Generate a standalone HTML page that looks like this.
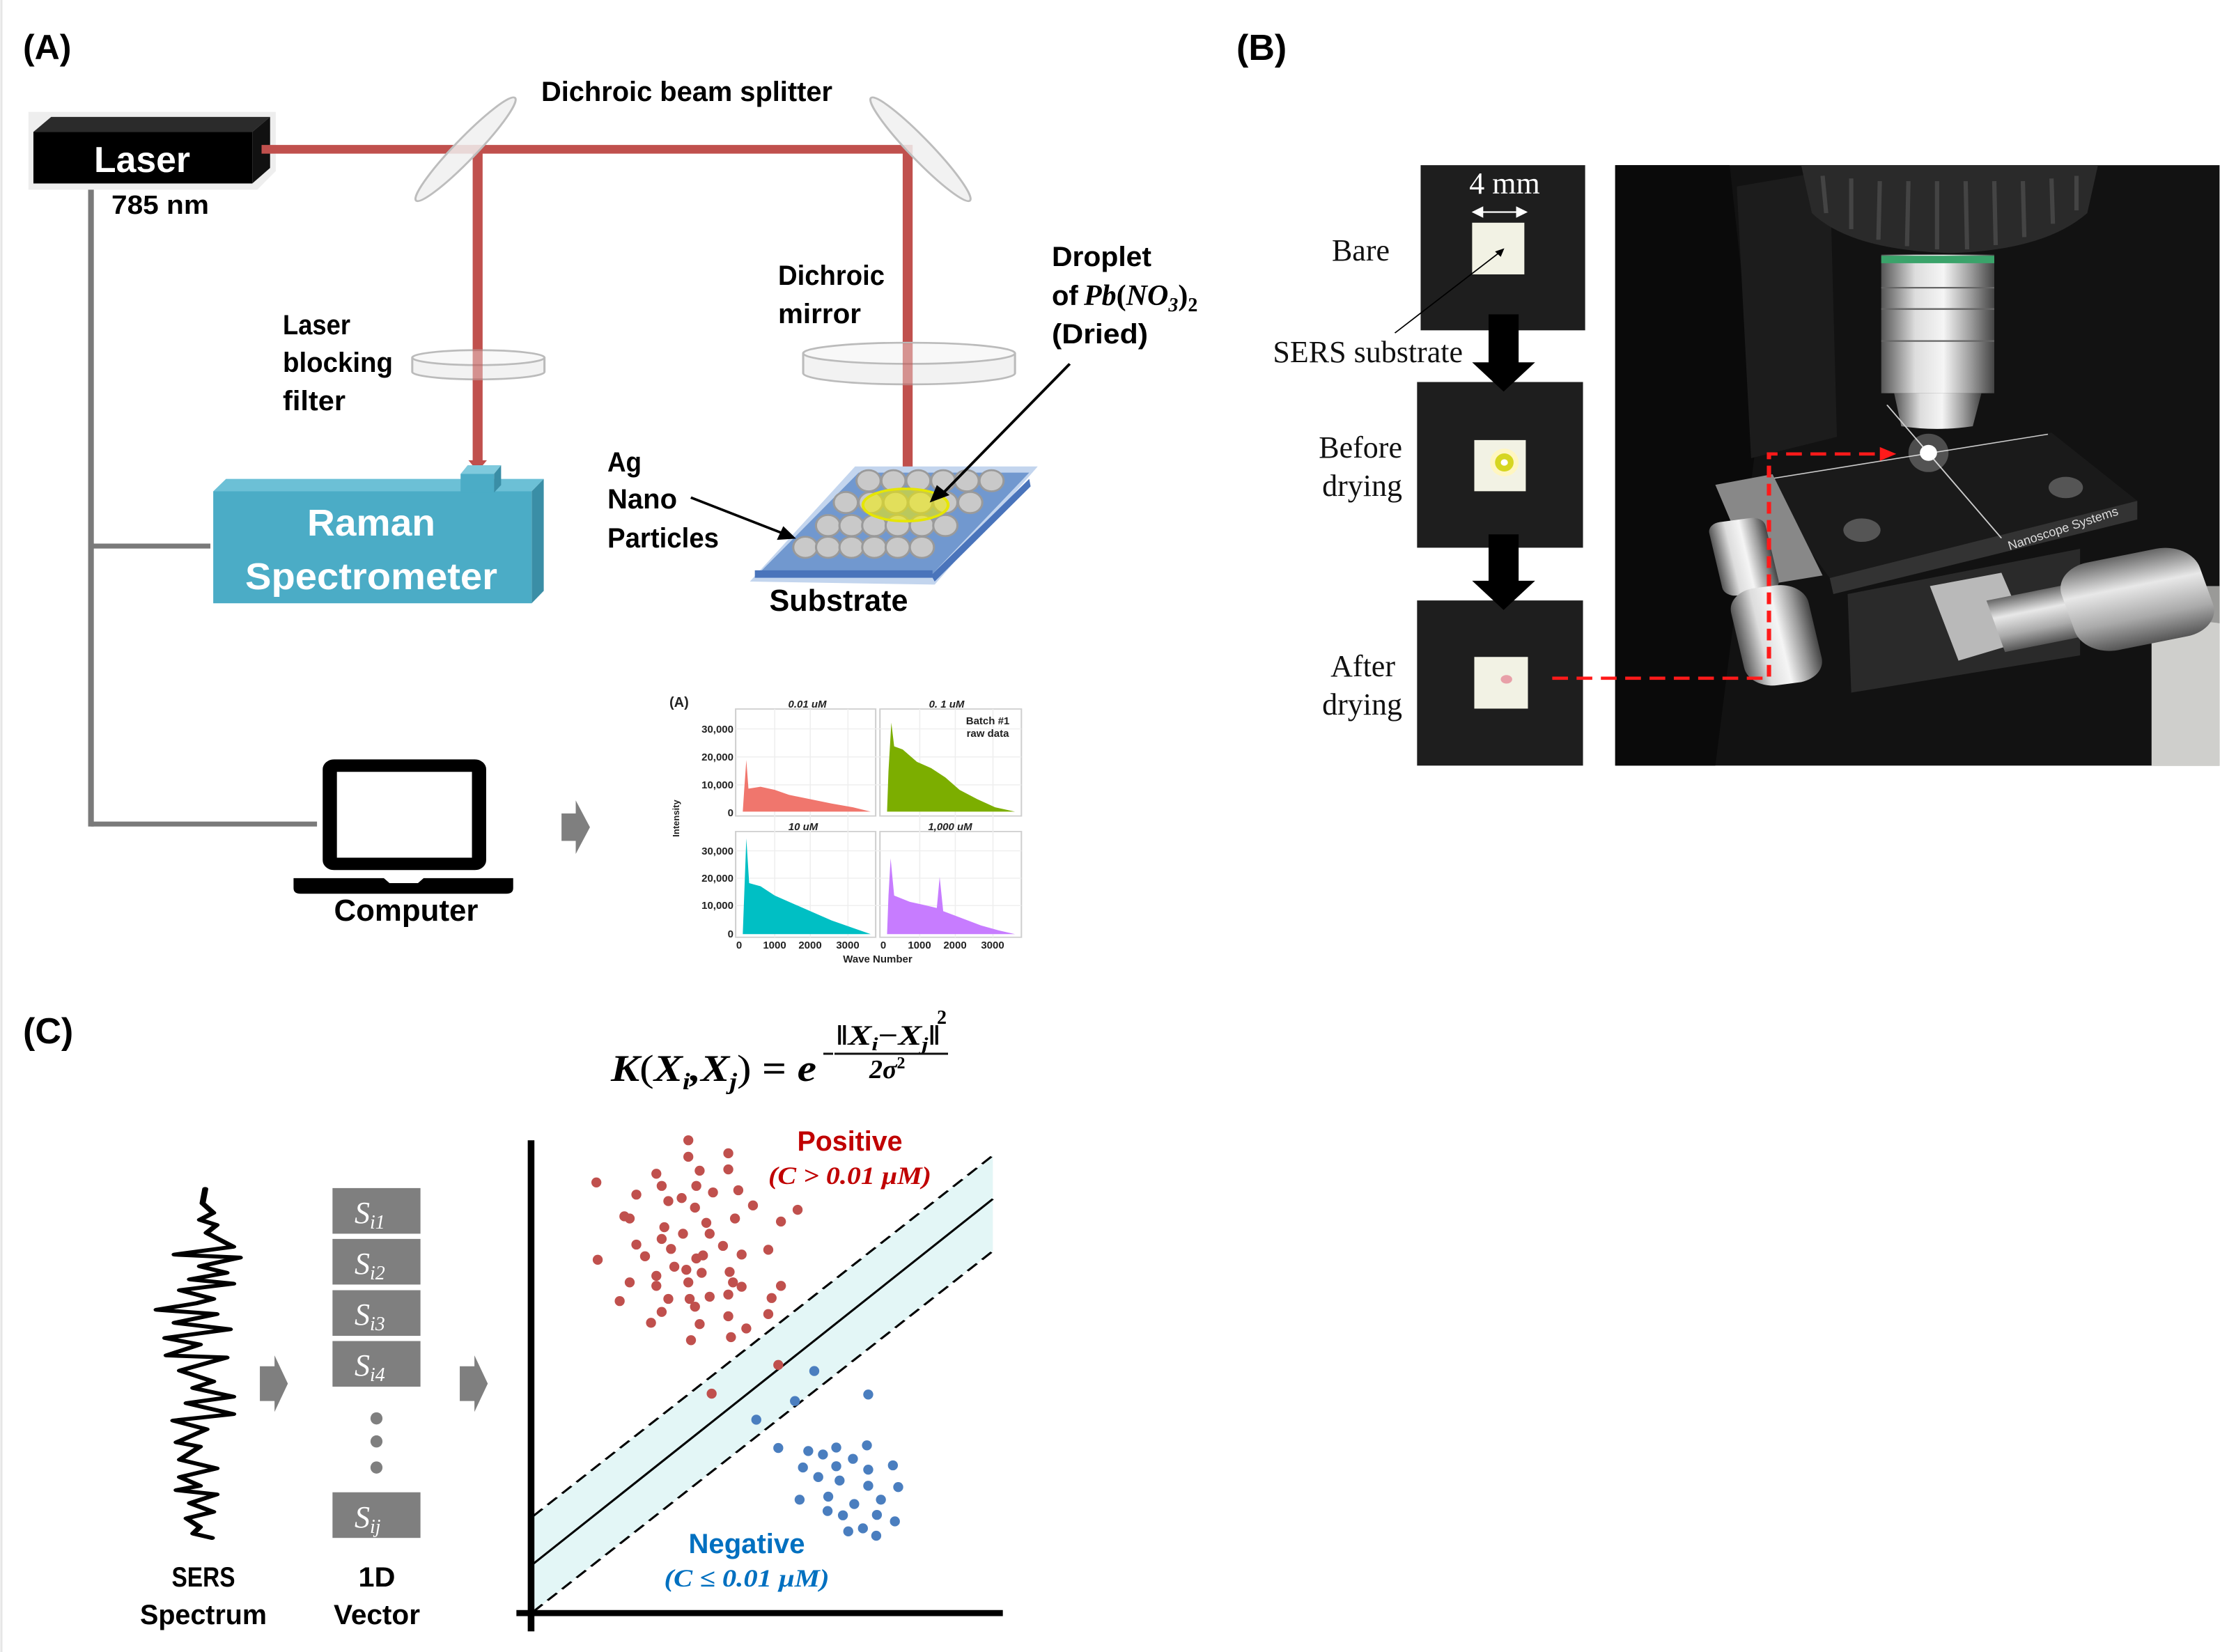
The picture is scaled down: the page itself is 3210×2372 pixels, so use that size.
<!DOCTYPE html>
<html><head><meta charset="utf-8"><style>
html,body{margin:0;padding:0;background:#fff}
svg{display:block}
.b{font-family:"Liberation Sans",sans-serif;font-weight:bold}
.s{font-family:"Liberation Serif",serif}
</style></head><body>
<svg width="3210" height="2372" viewBox="0 0 3210 2372" xmlns="http://www.w3.org/2000/svg">
<defs>
<linearGradient id="silver" x1="0" x2="1" y1="0" y2="0">
<stop offset="0" stop-color="#555"/><stop offset="0.3" stop-color="#ddd"/><stop offset="0.55" stop-color="#f5f5f5"/><stop offset="0.8" stop-color="#999"/><stop offset="1" stop-color="#444"/></linearGradient>
<linearGradient id="silv2" x1="0" x2="0" y1="0" y2="1">
<stop offset="0" stop-color="#666"/><stop offset="0.35" stop-color="#e8e8e8"/><stop offset="0.7" stop-color="#aaa"/><stop offset="1" stop-color="#555"/></linearGradient>
</defs>
<rect width="3210" height="2372" fill="#fff"/>
<line x1="2" y1="0" x2="2" y2="2372" stroke="#e6e6e6" stroke-width="3"/>

<!-- ============ PANEL A shapes ============ -->
<g transform="scale(1.0204,0.893)">
<g stroke="#7a7a7a" stroke-width="8" fill="none">
<line x1="128" y1="295" x2="128" y2="1329"/>
<line x1="128" y1="878" x2="296" y2="878"/>
<line x1="128" y1="1325" x2="446" y2="1325"/>
</g>
<polygon points="40,180 388,180 388,275 362,305 40,305" fill="#eee"/>
<polygon points="47,212 72,188 380,188 355,212" fill="#2b2b2b"/>
<polygon points="355,212 380,188 380,270 355,295" fill="#111"/>
<rect x="47" y="212" width="308" height="83" fill="#000"/>
<g stroke="#C0504D" stroke-width="14" fill="none">
<line x1="368" y1="240" x2="1283" y2="240"/>
<line x1="672" y1="233" x2="672" y2="742"/>
<line x1="1277" y1="233" x2="1277" y2="765"/>
</g>
<polygon points="659,740 685,740 672,758" fill="#C0504D"/>
<polygon points="1264,762 1290,762 1277,780" fill="#C0504D"/>
<ellipse cx="655" cy="240" rx="108" ry="16" transform="rotate(-50 655 240)" fill="#f0f0f0" fill-opacity="0.85" stroke="#bdbdbd" stroke-width="3"/>
<ellipse cx="1295" cy="240" rx="108" ry="16" transform="rotate(50 1295 240)" fill="#f0f0f0" fill-opacity="0.85" stroke="#bdbdbd" stroke-width="3"/>
<path d="M580,575 L580,598 A93,12 0 0 0 766,598 L766,575" fill="#f2f2f2" stroke="#bbb" stroke-width="3"/>
<ellipse cx="673" cy="575" rx="93" ry="12" fill="#f8f8f8" stroke="#bbb" stroke-width="3"/>
<path d="M1130,568 L1130,600 A149,18 0 0 0 1428,600 L1428,568" fill="#f2f2f2" stroke="#bbb" stroke-width="3"/>
<ellipse cx="1279" cy="568" rx="149" ry="17" fill="#f8f8f8" stroke="#bbb" stroke-width="3"/>
<line x1="672" y1="560" x2="672" y2="615" stroke="#C0504D" stroke-width="14" stroke-opacity="0.6"/>
<line x1="1277" y1="552" x2="1277" y2="620" stroke="#C0504D" stroke-width="14" stroke-opacity="0.6"/>
<polygon points="300,790 318,770 765,770 748,790" fill="#6cc0d6"/>
<polygon points="748,790 765,770 765,950 748,970" fill="#3a8ea6"/>
<rect x="300" y="790" width="448" height="180" fill="#4BACC6"/>
<polygon points="648,762 658,748 705,748 695,762" fill="#7fcadd"/>
<polygon points="695,762 705,748 705,780 695,792" fill="#3a8ea6"/>
<rect x="648" y="762" width="47" height="30" fill="#4BACC6"/>
<polygon points="1055,935 1203,750 1460,750 1315,940" fill="#c3d5ee"/>
<polygon points="1065,925 1208,760 1448,760 1310,925" fill="#7198cf"/>
<polygon points="1310,925 1448,770 1450,782 1315,935" fill="#4a74bb"/>
<rect x="1062" y="917" width="250" height="12" fill="#4a74bb"/>
<g fill="#c9c9c9" stroke="#9a9a9a" stroke-width="3">
<circle cx="1222" cy="773" r="17"/><circle cx="1257" cy="773" r="17"/><circle cx="1292" cy="773" r="17"/><circle cx="1327" cy="773" r="17"/><circle cx="1360" cy="773" r="17"/><circle cx="1395" cy="773" r="17"/>
<circle cx="1190" cy="808" r="17"/><circle cx="1225" cy="808" r="17"/><circle cx="1260" cy="808" r="17"/><circle cx="1295" cy="808" r="17"/><circle cx="1330" cy="808" r="17"/><circle cx="1365" cy="808" r="17"/>
<circle cx="1165" cy="845" r="17"/><circle cx="1198" cy="845" r="17"/><circle cx="1230" cy="845" r="17"/><circle cx="1263" cy="845" r="17"/><circle cx="1297" cy="845" r="17"/><circle cx="1330" cy="845" r="17"/>
<circle cx="1133" cy="880" r="17"/><circle cx="1165" cy="880" r="17"/><circle cx="1198" cy="880" r="17"/><circle cx="1230" cy="880" r="17"/><circle cx="1263" cy="880" r="17"/><circle cx="1297" cy="880" r="17"/>
</g>
<ellipse cx="1274" cy="812" rx="60" ry="26" fill="#f6f000" fill-opacity="0.55" stroke="#e6e600" stroke-width="4"/>
<line x1="1505" y1="585" x2="1325" y2="795" stroke="#000" stroke-width="4"/>
<polygon points="1308,808 1318,780 1336,796" fill="#000"/>
<line x1="972" y1="800" x2="1100" y2="857" stroke="#000" stroke-width="4"/>
<polygon points="1120,866 1093,868 1102,846" fill="#000"/>
<rect x="464" y="1231" width="210" height="158" fill="#fff" stroke="#000" stroke-width="20" rx="6"/>
<path d="M413,1412 L540,1412 L548,1420 L588,1420 L596,1412 L722,1412 L722,1428 Q722,1437 712,1437 L423,1437 Q413,1437 413,1428 Z" fill="#000"/>
<polygon points="790,1308 810,1308 810,1287 830,1330 810,1373 810,1352 790,1352" fill="#7f7f7f"/>
<g fill="#fff" stroke="#cfcfcf" stroke-width="2">
<rect x="1035" y="1140" width="197" height="172"/><rect x="1238" y="1140" width="199" height="172"/>
<rect x="1035" y="1337" width="197" height="170"/><rect x="1238" y="1337" width="199" height="170"/>
</g>
<g stroke="#eee" stroke-width="1.5">
<line x1="1035" y1="1172" x2="1437" y2="1172"/><line x1="1035" y1="1217" x2="1437" y2="1217"/><line x1="1035" y1="1262" x2="1437" y2="1262"/>
<line x1="1035" y1="1368" x2="1437" y2="1368"/><line x1="1035" y1="1412" x2="1437" y2="1412"/><line x1="1035" y1="1456" x2="1437" y2="1456"/>
<line x1="1090" y1="1140" x2="1090" y2="1507"/><line x1="1140" y1="1140" x2="1140" y2="1507"/><line x1="1193" y1="1140" x2="1193" y2="1507"/>
<line x1="1294" y1="1140" x2="1294" y2="1507"/><line x1="1344" y1="1140" x2="1344" y2="1507"/><line x1="1397" y1="1140" x2="1397" y2="1507"/>
</g>
<polygon points="1045,1305 1047,1270 1050,1222 1053,1268 1070,1265 1090,1270 1110,1278 1140,1285 1170,1292 1200,1298 1225,1305" fill="#f0766d"/>
<polygon points="1248,1305 1250,1240 1254,1162 1258,1200 1270,1205 1290,1225 1310,1235 1330,1250 1350,1270 1375,1285 1400,1298 1428,1305" fill="#7cae00"/>
<polygon points="1045,1502 1047,1440 1050,1348 1054,1420 1070,1425 1090,1440 1110,1450 1140,1465 1170,1480 1200,1492 1225,1502" fill="#00bfc4"/>
<polygon points="1248,1502 1250,1440 1253,1380 1258,1440 1280,1450 1300,1455 1318,1460 1322,1410 1327,1465 1350,1475 1380,1488 1405,1496 1428,1502" fill="#c77cff"/>
</g>
<!-- Panel A text -->
<text class="b" x="33" y="85" font-size="50">(A)</text>
<text class="b" x="204" y="247" font-size="52" fill="#fff" text-anchor="middle" textLength="138" lengthAdjust="spacingAndGlyphs">Laser</text>
<text class="b" x="160" y="307" font-size="38" textLength="140" lengthAdjust="spacingAndGlyphs">785 nm</text>
<text class="b" x="777" y="145" font-size="40" textLength="418" lengthAdjust="spacingAndGlyphs">Dichroic beam splitter</text>
<g class="b" font-size="40">
<text x="406" y="480" textLength="97" lengthAdjust="spacingAndGlyphs">Laser</text>
<text x="406" y="534" textLength="158" lengthAdjust="spacingAndGlyphs">blocking</text>
<text x="406" y="589" textLength="90" lengthAdjust="spacingAndGlyphs">filter</text>
<text x="1117" y="409" textLength="153" lengthAdjust="spacingAndGlyphs">Dichroic</text>
<text x="1117" y="464" textLength="119" lengthAdjust="spacingAndGlyphs">mirror</text>
<text x="872" y="677" textLength="49" lengthAdjust="spacingAndGlyphs">Ag</text>
<text x="872" y="730" textLength="100" lengthAdjust="spacingAndGlyphs">Nano</text>
<text x="872" y="786" textLength="160" lengthAdjust="spacingAndGlyphs">Particles</text>
<text x="1510" y="382" textLength="143" lengthAdjust="spacingAndGlyphs">Droplet</text>
<text x="1510" y="438">of</text>
<text x="1510" y="493" textLength="138" lengthAdjust="spacingAndGlyphs">(Dried)</text>
</g>
<text class="s" x="1556" y="438" font-size="42" font-style="italic" font-weight="bold">Pb<tspan font-style="normal">(</tspan>NO<tspan font-size="28" dy="9">3</tspan><tspan dy="-9" font-style="normal">)</tspan><tspan font-size="28" dy="9" font-style="normal">2</tspan></text>
<text class="b" x="533" y="769" font-size="54" fill="#fff" text-anchor="middle" textLength="184" lengthAdjust="spacingAndGlyphs">Raman</text>
<text class="b" x="533" y="846" font-size="54" fill="#fff" text-anchor="middle" textLength="362" lengthAdjust="spacingAndGlyphs">Spectrometer</text>
<text class="b" x="1204" y="877" font-size="44" text-anchor="middle" textLength="199" lengthAdjust="spacingAndGlyphs">Substrate</text>
<text class="b" x="583" y="1322" font-size="44" text-anchor="middle" textLength="207" lengthAdjust="spacingAndGlyphs">Computer</text>
<g font-family="Liberation Sans,sans-serif" font-size="15" font-weight="bold" fill="#222">
<text x="961" y="1015" font-size="20">(A)</text>
<text x="1159" y="1016" text-anchor="middle" font-style="italic">0.01 uM</text>
<text x="1359" y="1016" text-anchor="middle" font-style="italic">0. 1 uM</text>
<text x="1153" y="1192" text-anchor="middle" font-style="italic">10 uM</text>
<text x="1364" y="1192" text-anchor="middle" font-style="italic">1,000 uM</text>
<text x="1418" y="1040" text-anchor="middle">Batch #1</text>
<text x="1418" y="1058" text-anchor="middle">raw data</text>
<g text-anchor="end">
<text x="1053" y="1052">30,000</text><text x="1053" y="1092">20,000</text><text x="1053" y="1132">10,000</text><text x="1053" y="1172">0</text>
<text x="1053" y="1227">30,000</text><text x="1053" y="1266">20,000</text><text x="1053" y="1305">10,000</text><text x="1053" y="1346">0</text>
</g>
<text x="975" y="1175" transform="rotate(-90 975 1175)" text-anchor="middle" font-size="13">Intensity</text>
<text x="1061" y="1362" text-anchor="middle">0</text><text x="1112" y="1362" text-anchor="middle">1000</text><text x="1163" y="1362" text-anchor="middle">2000</text><text x="1217" y="1362" text-anchor="middle">3000</text>
<text x="1268" y="1362" text-anchor="middle">0</text><text x="1320" y="1362" text-anchor="middle">1000</text><text x="1371" y="1362" text-anchor="middle">2000</text><text x="1425" y="1362" text-anchor="middle">3000</text>
<text x="1260" y="1382" text-anchor="middle">Wave Number</text>
</g>

<!-- ============ PANEL B shapes ============ -->
<g transform="translate(1600,0) scale(1.0268,0.765)">
<rect x="428" y="310" width="230" height="310" fill="#1e1e1e"/>
<rect x="423" y="717" width="232" height="311" fill="#1e1e1e"/>
<rect x="423" y="1127" width="232" height="310" fill="#1e1e1e"/>
<rect x="500" y="418" width="73" height="97" fill="#f2f2e4"/>
<rect x="503" y="826" width="72" height="96" fill="#f2f2e4"/>
<ellipse cx="545" cy="868" rx="20" ry="26" fill="#fff6c0"/><ellipse cx="545" cy="868" rx="13" ry="17" fill="#d6d620"/><ellipse cx="545" cy="868" rx="5" ry="6" fill="#fff"/>
<rect x="503" y="1233" width="75" height="97" fill="#f2f2e4"/>
<ellipse cx="548" cy="1275" rx="8" ry="8" fill="#e8a0a8"/>
<g stroke="#fff" stroke-width="3" fill="#fff">
<line x1="508" y1="398" x2="568" y2="398"/>
<polygon points="502,398 514,390 514,406"/><polygon points="575,398 563,390 563,406"/>
</g>
<line x1="392" y1="625" x2="540" y2="472" stroke="#000" stroke-width="2"/>
<polygon points="545,466 532,472 540,482" fill="#000"/>
<polygon points="523,590 565,590 565,680 588,680 544,735 500,680 523,680" fill="#000"/>
<polygon points="523,1003 565,1003 565,1090 588,1090 544,1145 500,1090 523,1090" fill="#000"/>
<rect x="700" y="310" width="845" height="1127" fill="#121212"/>
<rect x="1450" y="1100" width="95" height="337" fill="#9a9a98"/>
<path d="M1450,1437 L1450,1180 Q1500,1160 1545,1170 L1545,1437 Z" fill="#cfcfcc"/>
<path d="M700,310 L860,310 L900,800 L840,1437 L700,1437 Z" fill="#0a0a0a"/>
<path d="M870,350 L1000,320 L1010,820 L890,860 Z" fill="#1c1c1c"/>
<path d="M960,310 L1375,310 L1360,400 Q1300,470 1170,475 Q1030,470 975,400 Z" fill="#2a2a2a"/>
<g stroke="#444" stroke-width="6">
<line x1="990" y1="330" x2="995" y2="400"/><line x1="1030" y1="335" x2="1030" y2="430"/><line x1="1070" y1="340" x2="1068" y2="450"/><line x1="1110" y1="340" x2="1108" y2="462"/><line x1="1150" y1="340" x2="1150" y2="468"/><line x1="1190" y1="340" x2="1192" y2="468"/><line x1="1230" y1="340" x2="1232" y2="460"/><line x1="1270" y1="340" x2="1272" y2="445"/><line x1="1310" y1="335" x2="1312" y2="420"/><line x1="1345" y1="330" x2="1345" y2="395"/>
</g>
<rect x="1072" y="478" width="158" height="260" fill="url(#silver)"/>
<rect x="1072" y="480" width="158" height="14" fill="#3aa36a"/>
<path d="M1090,738 L1212,738 L1200,800 Q1150,810 1100,800 Z" fill="url(#silver)"/>
<g stroke="#666" stroke-width="3"><line x1="1072" y1="540" x2="1230" y2="540"/><line x1="1072" y1="580" x2="1230" y2="580"/><line x1="1072" y1="640" x2="1230" y2="640"/></g>
<polygon points="900,900 1310,812 1430,940 1000,1085" fill="#1a1a1a"/>
<polygon points="1000,1085 1430,940 1430,975 1005,1115" fill="#333"/>
<line x1="920" y1="898" x2="1305" y2="815" stroke="#ccc" stroke-width="2"/>
<line x1="1080" y1="760" x2="1240" y2="1010" stroke="#ccc" stroke-width="2"/>
<ellipse cx="1138" cy="850" rx="12" ry="15" fill="#fff"/>
<ellipse cx="1138" cy="850" rx="28" ry="36" fill="#fff" fill-opacity="0.25"/>
<ellipse cx="1045" cy="995" rx="26" ry="22" fill="#555"/><ellipse cx="1330" cy="915" rx="24" ry="20" fill="#555"/>
<polygon points="1025,1115 1350,1030 1350,1230 1030,1300" fill="#2a2a2a"/>
<polygon points="840,910 920,890 990,1080 900,1100" fill="#888"/>
<rect x="840" y="975" width="80" height="140" rx="18" fill="url(#silver)" transform="rotate(-10 880 1045)"/>
<rect x="870" y="1100" width="110" height="185" rx="40" fill="url(#silver)" transform="rotate(-10 925 1190)"/>
<polygon points="1140,1100 1240,1075 1280,1200 1180,1240" fill="#b9b9b9"/>
<rect x="1230" y="1110" width="120" height="100" fill="url(#silv2)" transform="rotate(-15 1290 1160)"/>
<rect x="1330" y="1040" width="200" height="170" rx="50" fill="url(#silv2)" transform="rotate(-15 1430 1125)"/>
<g stroke="#ff1a1a" stroke-width="6" stroke-dasharray="22,12" fill="none">
<polyline points="612,1273 915,1273 915,852 1075,852"/>
</g>
<polygon points="1093,852 1070,839 1070,865" fill="#ff1a1a"/>
</g>
<!-- Panel B text -->
<text class="b" x="1775" y="86" font-size="52">(B)</text>
<text class="s" x="2160" y="278" font-size="44" fill="#fff" text-anchor="middle">4 mm</text>
<text x="2885" y="790" font-family="Liberation Sans,sans-serif" font-size="18" fill="#ddd" transform="rotate(-18 2885 790)">Nanoscope Systems</text>
<g class="s" font-size="44" fill="#111" text-anchor="end">
<text x="1995" y="374">Bare</text>
<text x="2100" y="520">SERS substrate</text>
<text x="2013" y="657">Before</text>
<text x="2013" y="712">drying</text>
<text x="2003" y="971">After</text>
<text x="2013" y="1026">drying</text>
</g>

<!-- ============ PANEL C shapes ============ -->
<g transform="translate(0,1397) scale(0.9566,0.624)">
<polyline fill="none" stroke="#000" stroke-width="9" stroke-linejoin="round" stroke-linecap="round" points="308,497 304,530 320,552 300,568 325,580 310,598 350,630 262,648 360,655 300,675 340,690 285,705 350,715 270,730 320,750 295,760 235,775 325,785 262,805 345,820 248,840 300,855 250,880 340,885 270,915 320,940 290,955 350,975 280,990 350,1015 260,1030 310,1050 265,1080 300,1090 270,1120 325,1140 270,1160 300,1180 265,1190 325,1200 285,1220 320,1240 280,1255 300,1275 290,1290 318,1300"/>
<polygon points="390,905 412,905 412,880 432,945 412,1010 412,985 390,985" fill="#7f7f7f"/>
<polygon points="690,905 712,905 712,880 732,945 712,1010 712,985 690,985" fill="#7f7f7f"/>
<g fill="#7f7f7f">
<rect x="499" y="495" width="132" height="105"/><rect x="499" y="612" width="132" height="105"/>
<rect x="499" y="730" width="132" height="105"/><rect x="499" y="847" width="132" height="105"/>
<rect x="499" y="1195" width="132" height="105"/>
<ellipse cx="565" cy="1025" rx="9" ry="14"/><ellipse cx="565" cy="1078" rx="9" ry="14"/><ellipse cx="565" cy="1138" rx="9" ry="14"/>
</g>
<polygon points="800,1250 1490,420 1490,640 800,1470" fill="#e3f6f6"/>
<line x1="800" y1="1360" x2="1490" y2="520" stroke="#000" stroke-width="4"/>
<line x1="800" y1="1250" x2="1490" y2="420" stroke="#000" stroke-width="4" stroke-dasharray="22,12"/>
<line x1="800" y1="1470" x2="1490" y2="640" stroke="#000" stroke-width="4" stroke-dasharray="22,12"/>
<line x1="797" y1="385" x2="797" y2="1515" stroke="#000" stroke-width="10"/>
<line x1="775" y1="1473" x2="1505" y2="1473" stroke="#000" stroke-width="14"/>
<g fill="#c0504d">
<ellipse cx="1033" cy="385" rx="7.5" ry="11.5"/><ellipse cx="1033" cy="423" rx="7.5" ry="11.5"/><ellipse cx="1093" cy="415" rx="7.5" ry="11.5"/><ellipse cx="985" cy="462" rx="7.5" ry="11.5"/><ellipse cx="1050" cy="455" rx="7.5" ry="11.5"/><ellipse cx="1093" cy="452" rx="7.5" ry="11.5"/><ellipse cx="895" cy="482" rx="7.5" ry="11.5"/><ellipse cx="993" cy="490" rx="7.5" ry="11.5"/><ellipse cx="1045" cy="490" rx="7.5" ry="11.5"/><ellipse cx="1108" cy="500" rx="7.5" ry="11.5"/><ellipse cx="955" cy="510" rx="7.5" ry="11.5"/><ellipse cx="1003" cy="525" rx="7.5" ry="11.5"/><ellipse cx="1023" cy="518" rx="7.5" ry="11.5"/><ellipse cx="1070" cy="505" rx="7.5" ry="11.5"/><ellipse cx="1043" cy="540" rx="7.5" ry="11.5"/><ellipse cx="1130" cy="535" rx="7.5" ry="11.5"/><ellipse cx="1197" cy="545" rx="7.5" ry="11.5"/><ellipse cx="937" cy="560" rx="7.5" ry="11.5"/><ellipse cx="945" cy="565" rx="7.5" ry="11.5"/><ellipse cx="997" cy="585" rx="7.5" ry="11.5"/><ellipse cx="1060" cy="575" rx="7.5" ry="11.5"/><ellipse cx="1103" cy="565" rx="7.5" ry="11.5"/><ellipse cx="1172" cy="572" rx="7.5" ry="11.5"/><ellipse cx="1025" cy="600" rx="7.5" ry="11.5"/><ellipse cx="1065" cy="600" rx="7.5" ry="11.5"/><ellipse cx="993" cy="612" rx="7.5" ry="11.5"/><ellipse cx="955" cy="625" rx="7.5" ry="11.5"/><ellipse cx="1007" cy="635" rx="7.5" ry="11.5"/><ellipse cx="1085" cy="628" rx="7.5" ry="11.5"/><ellipse cx="1113" cy="648" rx="7.5" ry="11.5"/><ellipse cx="1153" cy="637" rx="7.5" ry="11.5"/><ellipse cx="897" cy="660" rx="7.5" ry="11.5"/><ellipse cx="968" cy="652" rx="7.5" ry="11.5"/><ellipse cx="1045" cy="657" rx="7.5" ry="11.5"/><ellipse cx="1055" cy="650" rx="7.5" ry="11.5"/><ellipse cx="1012" cy="676" rx="7.5" ry="11.5"/><ellipse cx="1030" cy="683" rx="7.5" ry="11.5"/><ellipse cx="1053" cy="690" rx="7.5" ry="11.5"/><ellipse cx="1095" cy="688" rx="7.5" ry="11.5"/><ellipse cx="985" cy="697" rx="7.5" ry="11.5"/><ellipse cx="1033" cy="712" rx="7.5" ry="11.5"/><ellipse cx="945" cy="712" rx="7.5" ry="11.5"/><ellipse cx="985" cy="720" rx="7.5" ry="11.5"/><ellipse cx="1100" cy="712" rx="7.5" ry="11.5"/><ellipse cx="1113" cy="722" rx="7.5" ry="11.5"/><ellipse cx="1172" cy="720" rx="7.5" ry="11.5"/><ellipse cx="930" cy="755" rx="7.5" ry="11.5"/><ellipse cx="1003" cy="750" rx="7.5" ry="11.5"/><ellipse cx="1035" cy="750" rx="7.5" ry="11.5"/><ellipse cx="1065" cy="745" rx="7.5" ry="11.5"/><ellipse cx="1093" cy="740" rx="7.5" ry="11.5"/><ellipse cx="1158" cy="748" rx="7.5" ry="11.5"/><ellipse cx="1043" cy="768" rx="7.5" ry="11.5"/><ellipse cx="993" cy="780" rx="7.5" ry="11.5"/><ellipse cx="1093" cy="790" rx="7.5" ry="11.5"/><ellipse cx="1153" cy="785" rx="7.5" ry="11.5"/><ellipse cx="977" cy="805" rx="7.5" ry="11.5"/><ellipse cx="1050" cy="808" rx="7.5" ry="11.5"/><ellipse cx="1120" cy="818" rx="7.5" ry="11.5"/><ellipse cx="1037" cy="845" rx="7.5" ry="11.5"/><ellipse cx="1097" cy="838" rx="7.5" ry="11.5"/><ellipse cx="1168" cy="902" rx="7.5" ry="11.5"/><ellipse cx="1068" cy="968" rx="7.5" ry="11.5"/>
</g>
<g fill="#4a7ebf">
<ellipse cx="1222" cy="916" rx="7.5" ry="11.5"/><ellipse cx="1303" cy="970" rx="7.5" ry="11.5"/><ellipse cx="1193" cy="985" rx="7.5" ry="11.5"/><ellipse cx="1135" cy="1028" rx="7.5" ry="11.5"/><ellipse cx="1168" cy="1093" rx="7.5" ry="11.5"/><ellipse cx="1213" cy="1100" rx="7.5" ry="11.5"/><ellipse cx="1235" cy="1108" rx="7.5" ry="11.5"/><ellipse cx="1255" cy="1092" rx="7.5" ry="11.5"/><ellipse cx="1301" cy="1087" rx="7.5" ry="11.5"/><ellipse cx="1205" cy="1138" rx="7.5" ry="11.5"/><ellipse cx="1255" cy="1135" rx="7.5" ry="11.5"/><ellipse cx="1280" cy="1118" rx="7.5" ry="11.5"/><ellipse cx="1303" cy="1143" rx="7.5" ry="11.5"/><ellipse cx="1340" cy="1133" rx="7.5" ry="11.5"/><ellipse cx="1228" cy="1160" rx="7.5" ry="11.5"/><ellipse cx="1260" cy="1168" rx="7.5" ry="11.5"/><ellipse cx="1303" cy="1180" rx="7.5" ry="11.5"/><ellipse cx="1348" cy="1183" rx="7.5" ry="11.5"/><ellipse cx="1200" cy="1212" rx="7.5" ry="11.5"/><ellipse cx="1243" cy="1205" rx="7.5" ry="11.5"/><ellipse cx="1282" cy="1222" rx="7.5" ry="11.5"/><ellipse cx="1322" cy="1212" rx="7.5" ry="11.5"/><ellipse cx="1242" cy="1238" rx="7.5" ry="11.5"/><ellipse cx="1265" cy="1248" rx="7.5" ry="11.5"/><ellipse cx="1316" cy="1247" rx="7.5" ry="11.5"/><ellipse cx="1343" cy="1262" rx="7.5" ry="11.5"/><ellipse cx="1273" cy="1285" rx="7.5" ry="11.5"/><ellipse cx="1295" cy="1278" rx="7.5" ry="11.5"/><ellipse cx="1315" cy="1295" rx="7.5" ry="11.5"/>
</g>
</g>
<!-- Panel C text -->
<text class="b" x="33" y="1498" font-size="52">(C)</text>
<text class="s" x="877" y="1552" font-size="54" font-style="italic" font-weight="bold" textLength="295" lengthAdjust="spacingAndGlyphs">K<tspan font-style="normal" font-weight="normal">(</tspan>X<tspan font-size="34" dy="12">i</tspan><tspan dy="-12">,</tspan>X<tspan font-size="34" dy="12">j</tspan><tspan dy="-12" font-style="normal" font-weight="normal">)</tspan> <tspan font-style="normal">=</tspan> e</text>
<line x1="1182" y1="1513" x2="1196" y2="1513" stroke="#111" stroke-width="3"/>
<text class="s" x="1200" y="1500" font-size="40" font-style="italic" font-weight="bold" textLength="150" lengthAdjust="spacingAndGlyphs">‖X<tspan font-size="26" dy="8">i</tspan><tspan dy="-8" font-style="normal">−</tspan>X<tspan font-size="26" dy="8">j</tspan><tspan dy="-8">‖</tspan></text>
<text class="s" x="1345" y="1470" font-size="28" font-weight="bold">2</text>
<line x1="1198" y1="1513" x2="1361" y2="1513" stroke="#111" stroke-width="3"/>
<text class="s" x="1248" y="1548" font-size="38" font-style="italic" font-weight="bold">2σ<tspan font-size="24" dy="-14" font-style="normal">2</tspan></text>
<g class="s" font-size="44" font-style="italic" fill="#fff">
<text x="509" y="1756">S<tspan font-size="28" dy="8">i1</tspan></text>
<text x="509" y="1829">S<tspan font-size="28" dy="8">i2</tspan></text>
<text x="509" y="1902">S<tspan font-size="28" dy="8">i3</tspan></text>
<text x="509" y="1975">S<tspan font-size="28" dy="8">i4</tspan></text>
<text x="509" y="2193">S<tspan font-size="28" dy="8">ij</tspan></text>
</g>
<g class="b" font-size="40" text-anchor="middle">
<text x="292" y="2278" textLength="91" lengthAdjust="spacingAndGlyphs">SERS</text>
<text x="292" y="2332" textLength="182" lengthAdjust="spacingAndGlyphs">Spectrum</text>
<text x="541" y="2278" textLength="53" lengthAdjust="spacingAndGlyphs">1D</text>
<text x="541" y="2332" textLength="124" lengthAdjust="spacingAndGlyphs">Vector</text>
</g>
<text class="b" x="1220" y="1652" font-size="40" fill="#C00000" text-anchor="middle" textLength="151" lengthAdjust="spacingAndGlyphs">Positive</text>
<text class="s" x="1220" y="1700" font-size="36" fill="#C00000" text-anchor="middle" font-style="italic" font-weight="bold" textLength="234" lengthAdjust="spacingAndGlyphs">(C &gt; 0.01 μM)</text>
<text class="b" x="1072" y="2230" font-size="40" fill="#0070C0" text-anchor="middle" textLength="167" lengthAdjust="spacingAndGlyphs">Negative</text>
<text class="s" x="1072" y="2278" font-size="36" fill="#0070C0" text-anchor="middle" font-style="italic" font-weight="bold" textLength="237" lengthAdjust="spacingAndGlyphs">(C ≤ 0.01 μM)</text>
</svg>
</body></html>
